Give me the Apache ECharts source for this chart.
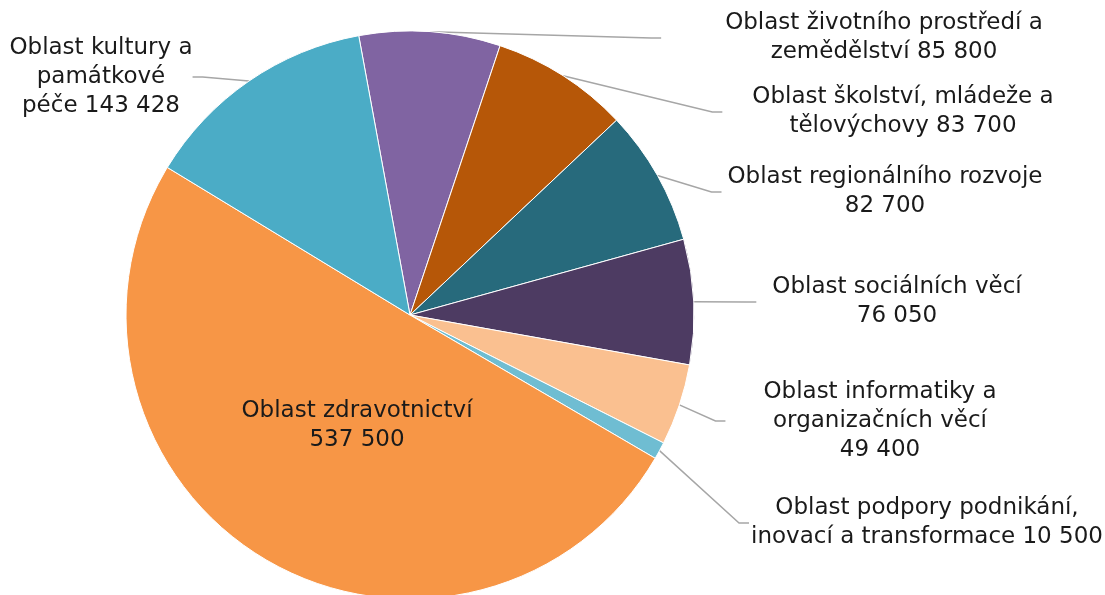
<!DOCTYPE html>
<html>
<head>
<meta charset="utf-8">
<script src="https://cdn.jsdelivr.net/npm/echarts@6/dist/echarts.min.js"></script>
<style>
  html, body { margin: 0; padding: 0; background: #fff; }
  #chart { width: 1105px; height: 595px; }
</style>
</head>
<body>
<div id="chart"></div>
<script>
// label text lines (value gets appended with the separator below)
const names = [
  'Oblast životního prostředí a\nzemědělství',
  'Oblast školství, mládeže a\ntělovýchovy',
  'Oblast regionálního rozvoje',
  'Oblast sociálních věcí',
  'Oblast informatiky a\norganizačních věcí',
  'Oblast podpory podnikání,\ninovací a transformace',
  'Oblast zdravotnictví',
  'Oblast kultury a\npamátkové\npéče'
];
const values = [85800, 83700, 82700, 76050, 49400, 10500, 537500, 143428];
const valueSep = [' ', ' ', '\n', '\n', '\n', ' ', '\n', ' '];
const colors = ['#8064A2', '#B65708', '#276A7C', '#4D3B62', '#FAC090', '#6FBDD2', '#F79646', '#4BACC6'];

// where each label block is centred, and the empty side room of its box
const labelPos = [
  [884, 38], [903, 112], [885, 192], [897, 302],
  [880, 421], [927, 523], [357, 426], [101, 77]
];
const labelPad = [64, 30, 6, 16, 38, 2, 0, 0];

function fmt(v) {
  return String(v).replace(/\B(?=(\d{3})+(?!\d))/g, ' ');
}

const chart = echarts.init(document.getElementById('chart'));
chart.setOption({
  animation: false,
  series: [{
    type: 'pie',
    center: [410, 315],
    radius: 284,
    startAngle: 100.4,
    clockwise: true,
    avoidLabelOverlap: false,
    itemStyle: { borderColor: '#fff', borderWidth: 1 },
    label: {
      show: true,
      position: 'outside',
      color: '#1a1a1a',
      fontFamily: 'DejaVu Sans',
      fontSize: 23,
      lineHeight: 29,
      align: 'center',
      formatter: p => p.name + valueSep[p.dataIndex] + fmt(p.value)
    },
    labelLine: {
      show: true,
      length: 20,
      length2: 10,
      lineStyle: { color: '#A6A6A6', width: 1.5 }
    },
    labelLayout: p => ({
      x: labelPos[p.dataIndex][0],
      y: labelPos[p.dataIndex][1],
      align: 'center',
      verticalAlign: 'middle'
    }),
    data: names.map((n, i) => {
      const d = {
        name: n, value: values[i],
        itemStyle: { color: colors[i] },
        label: { padding: [0, labelPad[i]] }
      };
      if (i === 6) {
        d.label.position = 'inside';
        d.labelLine = { show: false };
      }
      return d;
    })
  }]
});
</script>
</body>
</html>
